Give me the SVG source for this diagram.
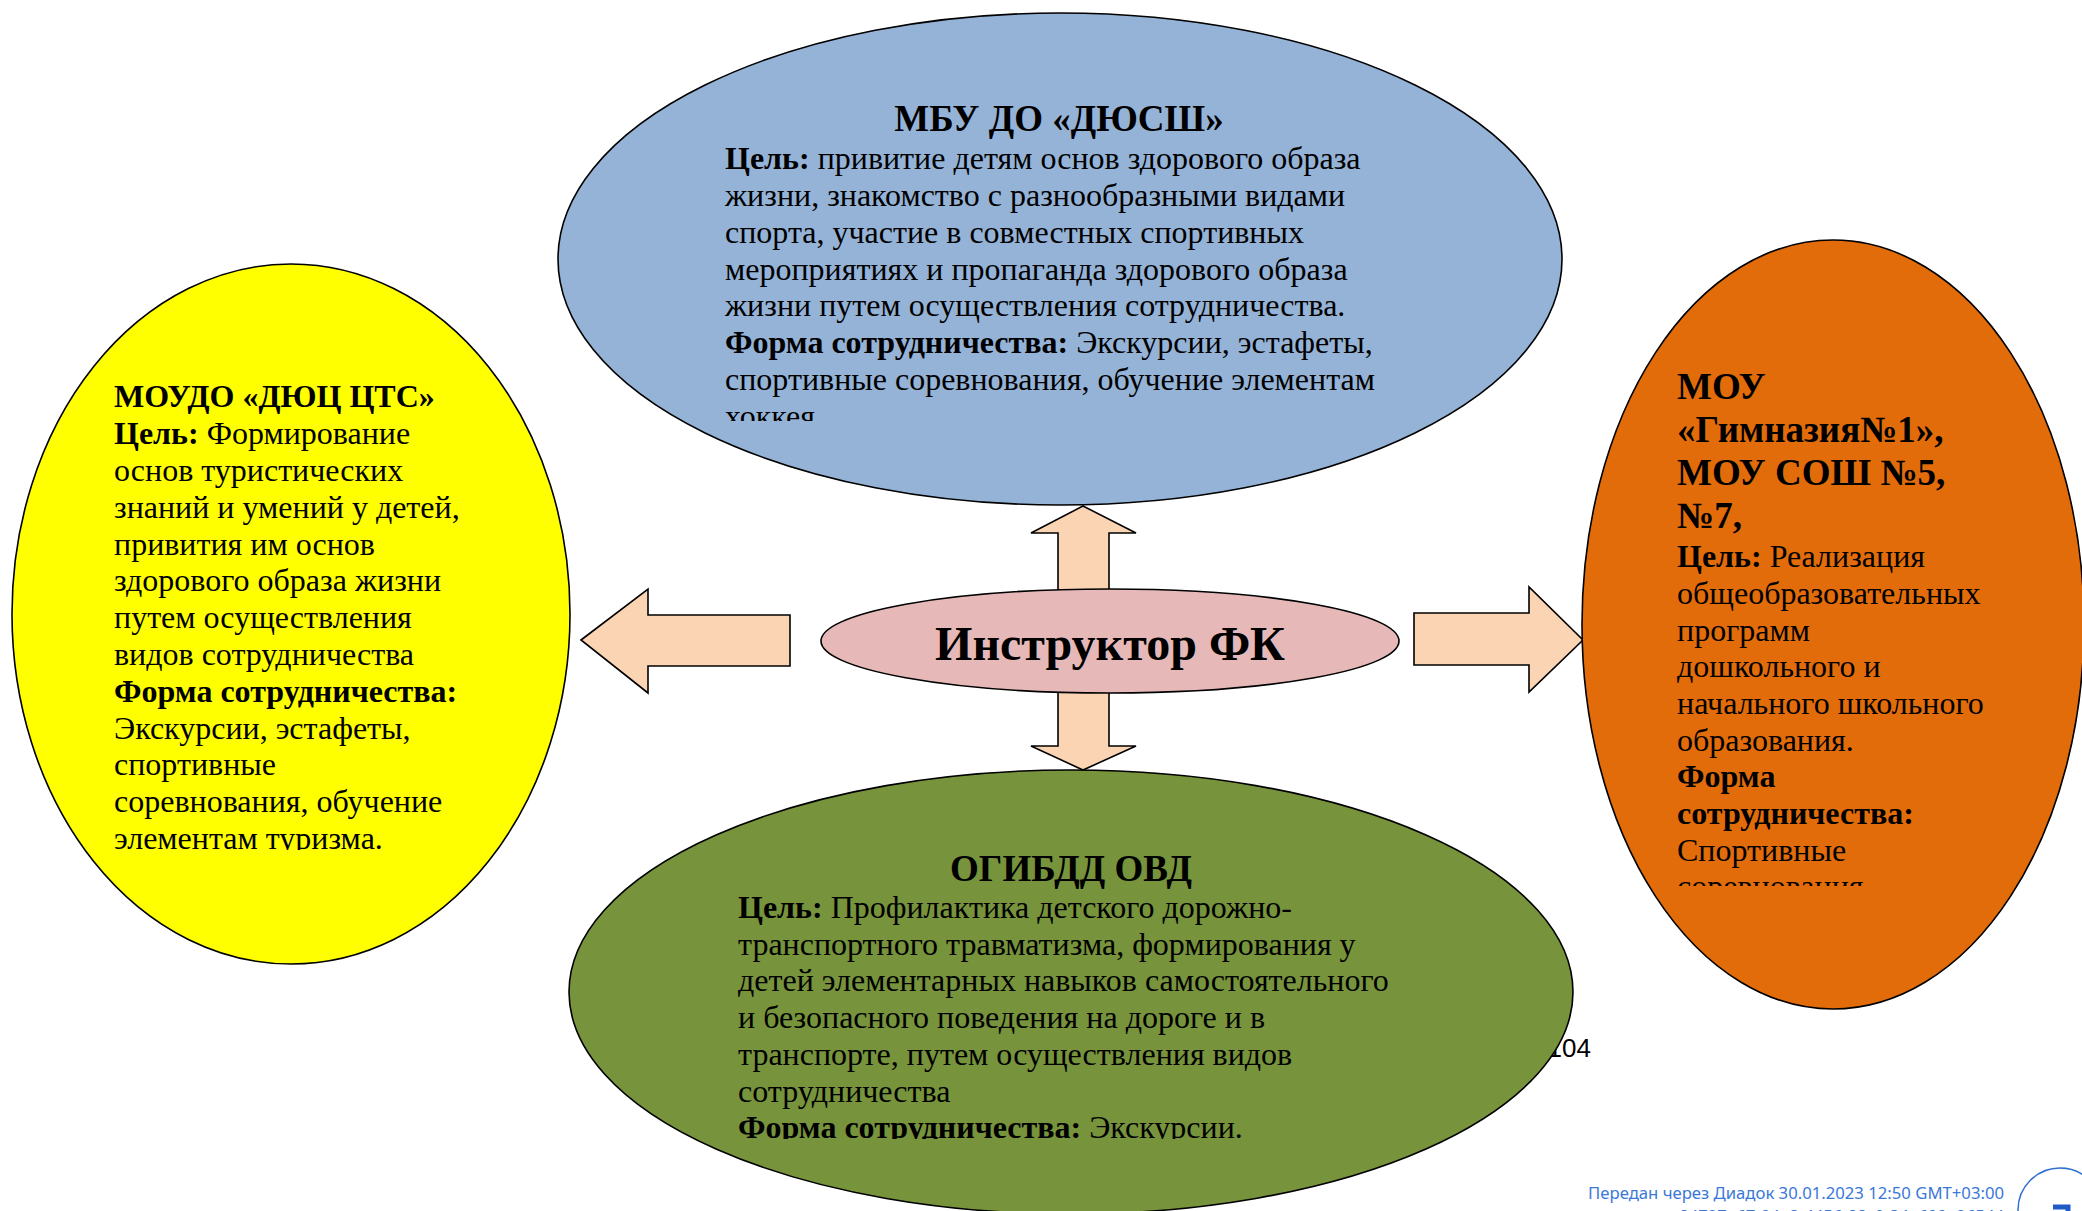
<svg xmlns="http://www.w3.org/2000/svg" width="2082" height="1211" viewBox="0 0 2082 1211">
<style>
.el{stroke:#000;stroke-width:1.6}
.arr{fill:#FBD4B4;stroke:#000;stroke-width:1.6;stroke-linejoin:miter}
.t{font-family:"Liberation Serif","Times New Roman",serif;font-size:32px;fill:#000}
.b{font-weight:bold}
.h{font-family:"Liberation Serif","Times New Roman",serif;font-size:37px;font-weight:bold;fill:#000}
.c{font-family:"Liberation Serif","Times New Roman",serif;font-size:48px;font-weight:bold;fill:#000}
.dd{font-family:"Noto Sans","Open Sans",sans-serif;font-size:16.7px;fill:#3B78D8}
</style>
<defs>
<clipPath id="clipBlue"><rect x="700" y="90" width="700" height="331"/></clipPath>
<clipPath id="clipGreen"><rect x="700" y="840" width="700" height="299"/></clipPath>
<clipPath id="clipYellow"><rect x="100" y="370" width="400" height="480"/></clipPath>
<clipPath id="clipOrange"><rect x="1660" y="360" width="400" height="526"/></clipPath>
</defs>
<rect x="0" y="0" width="2082" height="1211" fill="#fff"/>

<text x="1591" y="1057" font-family="Liberation Sans, Arial, sans-serif" font-size="26" text-anchor="end" fill="#000">104</text>

<g id="connectors">
<polygon class="arr" points="1083,506 1136,533 1109,533 1109,596 1058,596 1058,533 1031,533"/>
<polygon class="arr" points="1058,686 1109,686 1109,746 1136,746 1083,770 1031,746 1058,746"/>
<polygon class="arr" points="581,640 648,589 648,615 790,615 790,666 648,666 648,693"/>
<polygon class="arr" points="1414,613 1529,613 1529,587 1583,640 1529,692 1529,665 1414,665"/>
</g>

<g id="node-dyussh">
<ellipse class="el" cx="1060" cy="259" rx="502" ry="246" fill="#95B3D7"/>
<text class="h" x="1059" y="131" text-anchor="middle">МБУ ДО «ДЮСШ»</text>
<g clip-path="url(#clipBlue)">
<text class="t" x="725" y="169"><tspan class="b">Цель:</tspan> привитие детям основ здорового образа</text>
<text class="t" x="725" y="206">жизни, знакомство с разнообразными видами</text>
<text class="t" x="725" y="242.5">спорта, участие в совместных спортивных</text>
<text class="t" x="725" y="279.5">мероприятиях и пропаганда здорового образа</text>
<text class="t" x="725" y="316">жизни путем осуществления сотрудничества.</text>
<text class="t" x="725" y="353"><tspan class="b">Форма сотрудничества:</tspan> Экскурсии, эстафеты,</text>
<text class="t" x="725" y="390">спортивные соревнования, обучение элементам</text>
<text class="t" x="725" y="427">хоккея</text>
</g>
</g>

<g id="node-dyuts">
<ellipse class="el" cx="291" cy="614" rx="279" ry="350" fill="#FFFF00"/>
<g clip-path="url(#clipYellow)">
<text class="t b" x="114" y="407">МОУДО «ДЮЦ ЦТС»</text>
<text class="t" x="114" y="444"><tspan class="b">Цель:</tspan> Формирование</text>
<text class="t" x="114" y="481">основ туристических</text>
<text class="t" x="114" y="517.5">знаний и умений у детей,</text>
<text class="t" x="114" y="554.5">привития им основ</text>
<text class="t" x="114" y="591">здорового образа жизни</text>
<text class="t" x="114" y="628">путем осуществления</text>
<text class="t" x="114" y="665">видов сотрудничества</text>
<text class="t b" x="114" y="701.5">Форма сотрудничества:</text>
<text class="t" x="114" y="738.5">Экскурсии, эстафеты,</text>
<text class="t" x="114" y="775">спортивные</text>
<text class="t" x="114" y="812">соревнования, обучение</text>
<text class="t" x="114" y="849">элементам туризма.</text>
</g>
</g>

<g id="node-schools">
<ellipse class="el" cx="1833" cy="624.5" rx="251" ry="384.5" fill="#E36C0A"/>
<g clip-path="url(#clipOrange)">
<text class="h" x="1677" y="399">МОУ</text>
<text class="h" x="1677" y="442">«Гимназия№1»,</text>
<text class="h" x="1677" y="485">МОУ СОШ №5,</text>
<text class="h" x="1677" y="528">№7,</text>
<text class="t" x="1677" y="567"><tspan class="b">Цель:</tspan> Реализация</text>
<text class="t" x="1677" y="603.5">общеобразовательных</text>
<text class="t" x="1677" y="640.5">программ</text>
<text class="t" x="1677" y="677">дошкольного и</text>
<text class="t" x="1677" y="714">начального школьного</text>
<text class="t" x="1677" y="750.5">образования.</text>
<text class="t b" x="1677" y="787">Форма</text>
<text class="t b" x="1677" y="824">сотрудничества:</text>
<text class="t" x="1677" y="860.5">Спортивные</text>
<text class="t" x="1677" y="897">соревнования</text>
</g>
</g>

<g id="node-ogibdd">
<ellipse class="el" cx="1071" cy="992" rx="502" ry="222" fill="#77933C"/>
<text class="h" x="1071" y="881" text-anchor="middle">ОГИБДД ОВД</text>
<g clip-path="url(#clipGreen)">
<text class="t" x="738" y="918"><tspan class="b">Цель:</tspan> Профилактика детского дорожно-</text>
<text class="t" x="738" y="954.5">транспортного травматизма, формирования у</text>
<text class="t" x="738" y="991">детей элементарных навыков самостоятельного</text>
<text class="t" x="738" y="1028">и безопасного поведения на дороге и в</text>
<text class="t" x="738" y="1065">транспорте, путем осуществления видов</text>
<text class="t" x="738" y="1102">сотрудничества</text>
<text class="t" x="738" y="1138"><tspan class="b">Форма сотрудничества:</tspan> Экскурсии.</text>
</g>
</g>

<g id="node-instructor">
<ellipse class="el" cx="1110" cy="641" rx="289" ry="52" fill="#E6B9B8"/>
<text class="c" x="1110" y="660" text-anchor="middle">Инструктор ФК</text>
</g>

<g id="stamp">
<text class="dd" x="2004" y="1199" text-anchor="end">Передан через Диадок 30.01.2023 12:50 GMT+03:00</text>
<text class="dd" x="2004" y="1222" text-anchor="end">84727e67-94e8-4456-88c0-34e699e26544</text>
<circle cx="2060" cy="1210" r="42" fill="none" stroke="#2F6FD0" stroke-width="1.5"/>
<polyline points="2053,1207 2068,1207 2068,1220" fill="none" stroke="#1F5BC7" stroke-width="5"/>
</g>
</svg>
